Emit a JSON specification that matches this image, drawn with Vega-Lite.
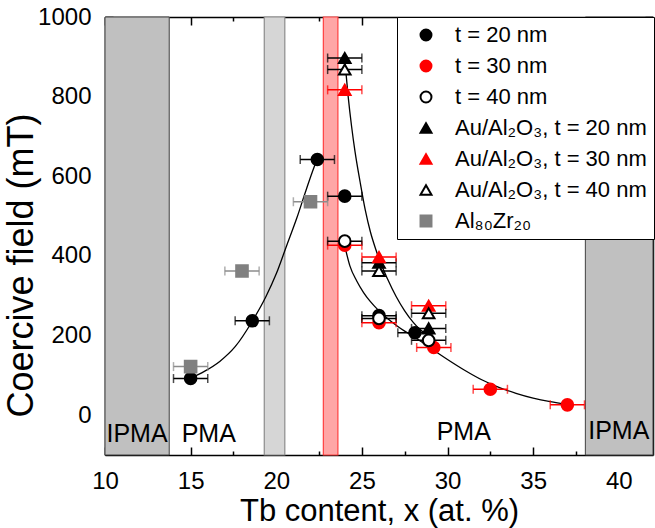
{
  "$schema": "https://vega.github.io/schema/vega-lite/v6.json",
  "width": 548,
  "height": 438,
  "autosize": {"type": "none"},
  "padding": {"left": 105, "top": 17, "right": 2, "bottom": 73},
  "background": "white",
  "config": {
    "view": {"stroke": null},
    "font": "Liberation Sans",
    "axis": {
      "grid": false, "zindex": 1,
      "domainColor": "black", "domainWidth": 1.5,
      "tickColor": "black", "tickWidth": 1.5, "tickSize": -8,
      "labelColor": "black", "labelFont": "Liberation Sans", "labelFontSize": 24, "labelPadding": 22,
      "labelFlush": false, "labelOverlap": false,
      "titleColor": "black", "titleFont": "Liberation Sans", "titleFontWeight": "normal", "titleFontSize": 31
    },
    "legend": {
      "padding": 7, "rowPadding": 9, "symbolOffset": 11, "labelOffset": 18,
      "labelFont": "Liberation Sans", "labelFontSize": 22, "labelColor": "black", "labelLimit": 400,
      "symbolSize": 120, "symbolStrokeWidth": 2,
      "strokeColor": "black", "fillColor": "white"
    }
  },
  "datasets": {
    "pts": [
      {"s": "t = 20 nm", "x": 15, "y": 92, "e": 1},
      {"s": "t = 20 nm", "x": 18.6, "y": 237, "e": 1},
      {"s": "t = 20 nm", "x": 22.4, "y": 642, "e": 1},
      {"s": "t = 20 nm", "x": 24, "y": 550, "e": 1},
      {"s": "t = 20 nm", "x": 26, "y": 250, "e": 1},
      {"s": "t = 20 nm", "x": 28.1, "y": 207, "e": 1},
      {"s": "t = 30 nm", "x": 24, "y": 427, "e": 1},
      {"s": "t = 30 nm", "x": 26, "y": 232, "e": 1},
      {"s": "t = 30 nm", "x": 29.2, "y": 170, "e": 1},
      {"s": "t = 30 nm", "x": 32.5, "y": 65, "e": 1},
      {"s": "t = 30 nm", "x": 37, "y": 26, "e": 1},
      {"s": "t = 40 nm", "x": 24, "y": 437, "e": 1},
      {"s": "t = 40 nm", "x": 26, "y": 243, "e": 1},
      {"s": "t = 40 nm", "x": 28.9, "y": 188, "e": 1},
      {"s": "Au/Al₂O₃, t = 20 nm", "x": 24, "y": 897, "e": 1},
      {"s": "Au/Al₂O₃, t = 20 nm", "x": 26, "y": 383, "e": 1},
      {"s": "Au/Al₂O₃, t = 20 nm", "x": 28.9, "y": 218, "e": 1},
      {"s": "Au/Al₂O₃, t = 30 nm", "x": 24, "y": 817, "e": 1},
      {"s": "Au/Al₂O₃, t = 30 nm", "x": 26, "y": 397, "e": 1},
      {"s": "Au/Al₂O₃, t = 30 nm", "x": 28.9, "y": 275, "e": 1},
      {"s": "Au/Al₂O₃, t = 40 nm", "x": 24, "y": 868, "e": 1},
      {"s": "Au/Al₂O₃, t = 40 nm", "x": 26, "y": 362, "e": 1},
      {"s": "Au/Al₂O₃, t = 40 nm", "x": 28.9, "y": 256, "e": 1},
      {"s": "Al₈₀Zr₂₀", "x": 15, "y": 122, "e": 1},
      {"s": "Al₈₀Zr₂₀", "x": 18, "y": 362, "e": 1},
      {"s": "Al₈₀Zr₂₀", "x": 22, "y": 536, "e": 1}
    ],
    "curves": [
      {"c": "A", "x": 15.0, "y": 93}, {"c": "A", "x": 15.8, "y": 110}, {"c": "A", "x": 16.7, "y": 135},
      {"c": "A", "x": 17.6, "y": 172}, {"c": "A", "x": 18.6, "y": 236}, {"c": "A", "x": 19.4, "y": 298},
      {"c": "A", "x": 20.0, "y": 355}, {"c": "A", "x": 20.6, "y": 425}, {"c": "A", "x": 21.2, "y": 495},
      {"c": "A", "x": 21.7, "y": 560}, {"c": "A", "x": 22.1, "y": 610}, {"c": "A", "x": 22.4, "y": 645},
      {"c": "B", "x": 24.0, "y": 893}, {"c": "B", "x": 24.2, "y": 800}, {"c": "B", "x": 24.4, "y": 725},
      {"c": "B", "x": 24.6, "y": 662}, {"c": "B", "x": 24.9, "y": 585}, {"c": "B", "x": 25.2, "y": 515},
      {"c": "B", "x": 25.5, "y": 460}, {"c": "B", "x": 25.8, "y": 418}, {"c": "B", "x": 26.1, "y": 382},
      {"c": "B", "x": 26.5, "y": 342}, {"c": "B", "x": 27.0, "y": 298}, {"c": "B", "x": 27.5, "y": 262},
      {"c": "B", "x": 28.0, "y": 233}, {"c": "B", "x": 28.4, "y": 215}, {"c": "B", "x": 28.8, "y": 202},
      {"c": "C", "x": 24.0, "y": 425}, {"c": "C", "x": 24.3, "y": 375}, {"c": "C", "x": 24.7, "y": 337},
      {"c": "C", "x": 25.1, "y": 308}, {"c": "C", "x": 25.5, "y": 285}, {"c": "C", "x": 26.0, "y": 262},
      {"c": "C", "x": 26.5, "y": 243}, {"c": "C", "x": 27.0, "y": 226}, {"c": "C", "x": 27.5, "y": 211},
      {"c": "C", "x": 28.0, "y": 198}, {"c": "C", "x": 28.5, "y": 184}, {"c": "C", "x": 29.3, "y": 160},
      {"c": "C", "x": 30.0, "y": 140}, {"c": "C", "x": 31.0, "y": 113}, {"c": "C", "x": 32.0, "y": 89},
      {"c": "C", "x": 33.0, "y": 70}, {"c": "C", "x": 34.0, "y": 55}, {"c": "C", "x": 35.0, "y": 43},
      {"c": "C", "x": 36.0, "y": 34}, {"c": "C", "x": 37.0, "y": 27}
    ],
    "bands": [
      {"k": "ipma", "x1": 10, "x2": 13.75},
      {"k": "ipma", "x1": 38.05, "x2": 42},
      {"k": "hgray", "x1": 19.3, "x2": 20.5},
      {"k": "hred", "x1": 22.75, "x2": 23.6}
    ],
    "ann": [
      {"t": "IPMA", "x": 11.87, "y": -48},
      {"t": "PMA", "x": 16.06, "y": -47},
      {"t": "PMA", "x": 30.95, "y": -42},
      {"t": "IPMA", "x": 40.0, "y": -40}
    ]
  },
  "layer": [
    {
      "data": {"name": "bands"},
      "transform": [{"filter": "datum.k === 'ipma'"}],
      "mark": {"type": "rect", "fill": "#c0c0c0", "stroke": "#404040", "strokeWidth": 1},
      "encoding": {
        "x": {"field": "x1", "type": "quantitative", "scale": {"domain": [10, 42], "nice": false, "zero": false}, "axis": null},
        "x2": {"field": "x2"}
      }
    },
    {
      "data": {"name": "bands"},
      "transform": [{"filter": "datum.k === 'hgray'"}],
      "mark": {"type": "rect", "fill": "#d6d6d6", "stroke": "#8c8c8c", "strokeWidth": 1.2},
      "encoding": {
        "x": {"field": "x1", "type": "quantitative", "axis": null},
        "x2": {"field": "x2"}
      }
    },
    {
      "data": {"name": "bands"},
      "transform": [{"filter": "datum.k === 'hred'"}],
      "mark": {"type": "rect", "fill": "#ffa6a6", "stroke": "#ff4040", "strokeWidth": 1.2},
      "encoding": {
        "x": {"field": "x1", "type": "quantitative", "axis": null},
        "x2": {"field": "x2"}
      }
    },
    {
      "data": {"name": "curves"},
      "mark": {"type": "line", "color": "black", "strokeWidth": 1.3, "interpolate": "monotone"},
      "encoding": {
        "x": {"field": "x", "type": "quantitative", "axis": {
          "orient": "top", "values": [10, 12.5, 15, 17.5, 20, 22.5, 25, 27.5, 30, 32.5, 35, 37.5, 40],
          "labels": false, "title": null,
          "tickDash": {"condition": {"test": "datum.value % 5 !== 0", "value": [4, 30]}, "value": [30, 0]}
        }},
        "y": {"field": "y", "type": "quantitative", "scale": {"domain": [-100, 1000], "nice": false, "zero": false}, "axis": {
          "orient": "right", "values": [0, 100, 200, 300, 400, 500, 600, 700, 800, 900, 1000],
          "labels": false, "title": null,
          "tickDash": {"condition": {"test": "datum.value % 200 !== 0", "value": [4, 30]}, "value": [30, 0]}
        }},
        "detail": {"field": "c"}
      }
    },
    {
      "data": {"name": "pts"},
      "mark": {"type": "errorbar", "ticks": {"size": 9}, "thickness": 1.5},
      "encoding": {
        "x": {"field": "x", "type": "quantitative", "axis": null},
        "xError": {"field": "e"},
        "y": {"field": "y", "type": "quantitative", "axis": null},
        "color": {"field": "s", "type": "nominal", "legend": null, "scale": {
          "domain": ["Al₈₀Zr₂₀", "Au/Al₂O₃, t = 40 nm", "Au/Al₂O₃, t = 30 nm", "Au/Al₂O₃, t = 20 nm", "t = 40 nm", "t = 30 nm", "t = 20 nm"],
          "range": ["#8c8c8c", "black", "#ff0000", "black", "black", "#ff0000", "black"]
        }}
      }
    },
    {
      "data": {"name": "pts"},
      "mark": {"type": "point", "size": 135, "strokeWidth": 2, "opacity": 1},
      "encoding": {
        "x": {"field": "x", "type": "quantitative", "axis": {
          "orient": "bottom", "values": [10, 12.5, 15, 17.5, 20, 22.5, 25, 27.5, 30, 32.5, 35, 37.5, 40],
          "format": "d", "labelExpr": "datum.value % 5 === 0 ? datum.label : ''",
          "tickDash": {"condition": {"test": "datum.value % 5 !== 0", "value": [4, 30]}, "value": [30, 0]},
          "title": "Tb content, x (at. %)", "titleY": 65, "titleBaseline": "alphabetic"
        }},
        "y": {"field": "y", "type": "quantitative", "axis": {
          "orient": "left", "values": [0, 100, 200, 300, 400, 500, 600, 700, 800, 900, 1000],
          "format": "d", "labelExpr": "datum.value % 200 === 0 ? datum.label : ''",
          "tickDash": {"condition": {"test": "datum.value % 200 !== 0", "value": [4, 30]}, "value": [30, 0]},
          "title": "Coercive field (mT)", "titleFontSize": 36, "titleAngle": -90, "titleX": -73, "titleY": 248,
          "titleBaseline": "alphabetic", "titleAlign": "center"
        }},
        "shape": {"field": "s", "type": "nominal",
          "legend": {"title": null, "orient": "none", "legendX": 292, "legendY": 0},
          "scale": {
          "domain": ["t = 20 nm", "t = 30 nm", "t = 40 nm", "Au/Al₂O₃, t = 20 nm", "Au/Al₂O₃, t = 30 nm", "Au/Al₂O₃, t = 40 nm", "Al₈₀Zr₂₀"],
          "range": ["circle", "circle", "circle", "triangle-up", "triangle-up", "triangle-up", "square"]
        }},
        "fill": {"field": "s", "type": "nominal",
          "legend": {"title": null, "orient": "none", "legendX": 292, "legendY": 0},
          "scale": {
          "domain": ["t = 20 nm", "t = 30 nm", "t = 40 nm", "Au/Al₂O₃, t = 20 nm", "Au/Al₂O₃, t = 30 nm", "Au/Al₂O₃, t = 40 nm", "Al₈₀Zr₂₀"],
          "range": ["black", "#ff0000", "white", "black", "#ff0000", "white", "#808080"]
        }},
        "stroke": {"field": "s", "type": "nominal",
          "legend": {"title": null, "orient": "none", "legendX": 292, "legendY": 0},
          "scale": {
          "domain": ["t = 20 nm", "t = 30 nm", "t = 40 nm", "Au/Al₂O₃, t = 20 nm", "Au/Al₂O₃, t = 30 nm", "Au/Al₂O₃, t = 40 nm", "Al₈₀Zr₂₀"],
          "range": ["black", "#ff0000", "black", "black", "#ff0000", "black", "#808080"]
        }}
      }
    },
    {
      "data": {"name": "ann"},
      "mark": {"type": "text", "fontSize": 25, "font": "Liberation Sans", "color": "black", "baseline": "middle", "align": "center"},
      "encoding": {
        "x": {"field": "x", "type": "quantitative", "axis": null},
        "y": {"field": "y", "type": "quantitative", "axis": null},
        "text": {"field": "t"}
      }
    }
  ],
  "resolve": {"axis": {"x": "independent", "y": "independent"}}
}
